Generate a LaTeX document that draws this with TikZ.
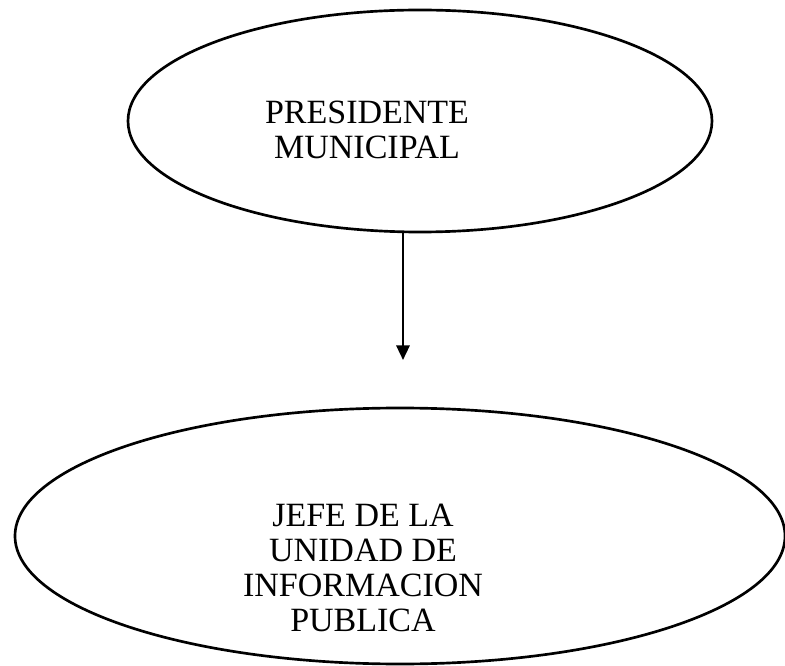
\documentclass[tikz,border=0pt]{standalone}
\usepackage{fontspec}
\setmainfont{Liberation Serif}
\usetikzlibrary{shapes.geometric,arrows.meta}
\begin{document}
\begin{tikzpicture}[x=0.75pt,y=-0.75pt,
  oval/.style={draw, ellipse, line width=2pt, inner sep=0pt},
  nametext/.style={align=center, inner sep=0pt, font=\fontsize{25.5}{26.25}\selectfont}]
\useasboundingbox (0,0) rectangle (785,666);
\node[oval, minimum width=438pt, minimum height=166.5pt] (pres) at (420,121) {};
\node[nametext] (prestext) at (367,130) {PRESIDENTE\\MUNICIPAL};
\node[oval, minimum width=577.5pt, minimum height=192pt] (jefe) at (400,536) {};
\node[nametext] (jefetext) at (363,568) {JEFE DE LA\\UNIDAD DE\\INFORMACION\\PUBLICA};
\coordinate (tip) at (403,360);
\draw[-{Triangle[length=11pt,width=10pt]}, line width=1.7pt] (tip |- pres.south) -- (tip);
\end{tikzpicture}
\end{document}
